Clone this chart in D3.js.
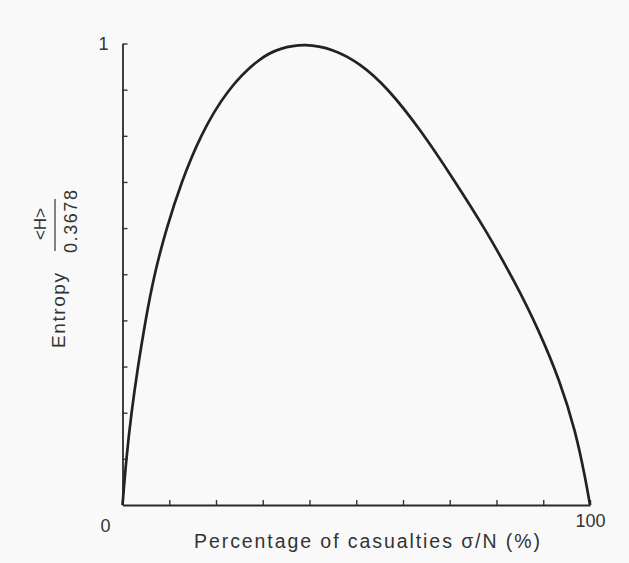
<!DOCTYPE html>
<html>
<head>
<meta charset="utf-8">
<script src="https://cdn.jsdelivr.net/npm/d3@7"></script>
<style>
  body { margin: 0; background: #f9f9f9; }
  text { font-family: "Liberation Sans", Arial, sans-serif; fill: #333; }
</style>
</head>
<body>
<div id="chart"></div>
<script>
// percentage of casualties (x) and normalised entropy (y)
var pct = [0, 0.8, 1.9, 3.3, 4.9, 6.8, 9.4, 12.6, 16.6, 22.3, 29.4, 33.7, 39,
           45.1, 50.8, 56.5, 63.7, 70.8, 77.6, 84, 89, 93.6, 96.9, 99, 100];
var entropy = [0, 0.1, 0.2, 0.3, 0.4, 0.5, 0.6, 0.7, 0.8, 0.9, 0.97, 0.99, 1.0,
               0.988, 0.957, 0.906, 0.814, 0.706, 0.598, 0.482, 0.38, 0.268, 0.16, 0.058, 0];
var xTicks = [0, 10, 20, 30, 40, 50, 60, 70, 80, 90, 100];
var yTicks = [0.1, 0.2, 0.3, 0.4, 0.5, 0.6, 0.7, 0.8, 0.9, 1];

var W = 629, H = 563;
var margin = {top: 43.5, right: 39, bottom: 58, left: 122.5},
    width = W - margin.left - margin.right,
    height = H - margin.top - margin.bottom;

var x = d3.scaleLinear().domain([0, 100]).range([0, width]);
var y = d3.scaleLinear().domain([0, 1]).range([height, 0]);

var svg = d3.select("#chart").append("svg")
    .attr("width", W)
    .attr("height", H);

svg.append("rect").attr("width", W).attr("height", H).attr("fill", "#f9f9f9");

var g = svg.append("g")
    .attr("transform", "translate(" + margin.left + "," + margin.top + ")");

var xAxis = d3.axisBottom(x)
    .tickValues(xTicks)
    .tickSizeInner(-5)
    .tickSizeOuter(0)
    .tickPadding(9)
    .tickFormat(function(d) { return d === 100 ? "100" : ""; });

var yAxis = d3.axisLeft(y)
    .tickValues(yTicks)
    .tickSizeInner(-5)
    .tickSizeOuter(0)
    .tickPadding(14)
    .tickFormat(function(d) { return d === 1 ? "1" : ""; });

var gx = g.append("g")
    .attr("transform", "translate(0," + height + ")")
    .call(xAxis);

var gy = g.append("g")
    .call(yAxis);

[gx, gy].forEach(function(a) {
  a.select(".domain").attr("stroke", "#2a2a2a").attr("stroke-width", 1.8);
  a.selectAll(".tick line").attr("stroke", "#333").attr("stroke-width", 1.4);
  a.selectAll(".tick text")
    .style("font-family", "'Liberation Sans', Arial, sans-serif")
    .style("font-size", "18px")
    .attr("fill", "#333");
});

// origin label sits below-left of the corner
g.append("text")
    .attr("x", x(0) - 17)
    .attr("y", height + 27)
    .attr("text-anchor", "middle")
    .style("font-size", "18px")
    .text("0");

// basis spline smooths out reading noise in the hand-read points
var line = d3.line()
    .x(function(d, i) { return x(pct[i]); })
    .y(function(d, i) { return y(entropy[i]); })
    .curve(d3.curveBasis);

g.append("path")
    .datum(pct)
    .attr("fill", "none")
    .attr("stroke", "#222")
    .attr("stroke-width", 2.7)
    .attr("stroke-linejoin", "round")
    .attr("d", line);

// x axis title
svg.append("text")
    .attr("x", 194)
    .attr("y", 548)
    .attr("textLength", 346)
    .attr("lengthAdjust", "spacing")
    .style("font-size", "19.5px")
    .text("Percentage of casualties \u03c3/N (%)");

// y axis title: "Entropy" plus the fraction <H> / 0.3678
svg.append("text")
    .attr("transform", "translate(65,348) rotate(-90)")
    .attr("textLength", 75)
    .attr("lengthAdjust", "spacing")
    .style("font-size", "19px")
    .text("Entropy");

svg.append("text")
    .attr("transform", "translate(46,224) rotate(-90)")
    .attr("text-anchor", "middle")
    .style("font-size", "17px")
    .text("<H>");

svg.append("line")
    .attr("x1", 55).attr("x2", 55)
    .attr("y1", 199).attr("y2", 251)
    .attr("stroke", "#333")
    .attr("stroke-width", 1.2);

svg.append("text")
    .attr("transform", "translate(77,253) rotate(-90)")
    .attr("textLength", 63)
    .attr("lengthAdjust", "spacing")
    .style("font-size", "18px")
    .text("0.3678");
</script>
</body>
</html>
